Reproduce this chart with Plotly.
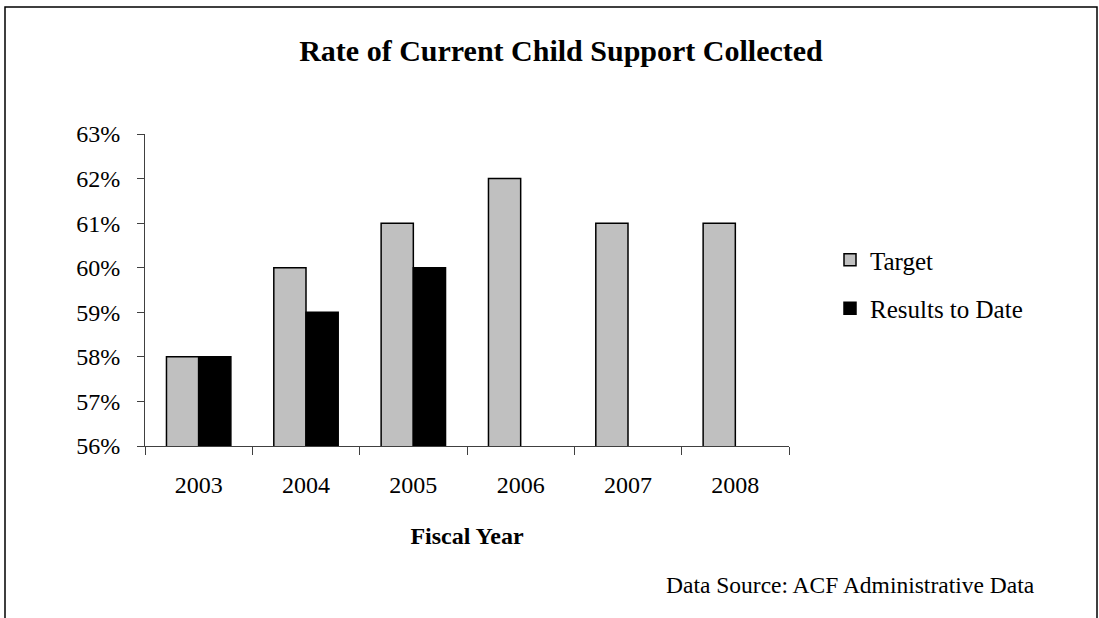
import plotly.graph_objects as go

# Fiscal years and collection rates (%)
years = ["2003", "2004", "2005", "2006", "2007", "2008"]
target = [58, 60, 61, 62, 61, 61]
results = [58, 59, 60, None, None, None]
y_ticks = [56, 57, 58, 59, 60, 61, 62, 63]
y_tick_labels = [f"{v}%" for v in y_ticks]

W, H = 1099, 618
FONT = "Times New Roman, Liberation Serif, serif"

fig = go.Figure()
fig.add_trace(go.Bar(
    x=years, y=target, name="Target", legendgroup="t",
    marker=dict(color="#C0C0C0", line=dict(color="black", width=1.5)),
))
fig.add_trace(go.Bar(
    x=years, y=results, name="Results to Date", legendgroup="r",
    marker=dict(color="black", line=dict(color="black", width=1.5)),
))

fig.update_layout(
    width=W, height=H,
    margin=dict(l=0, r=0, t=0, b=0),
    paper_bgcolor="white", plot_bgcolor="white",
    font=dict(family=FONT, size=24, color="black"),
    barmode="group", bargap=0.4, bargroupgap=0,
    showlegend=True,
    legend=dict(
        x=830 / W, y=1 - 237 / H, xanchor="left", yanchor="top",
        font=dict(family=FONT, size=25, color="black"),
        traceorder="grouped", tracegroupgap=13,
        bgcolor="rgba(0,0,0,0)", itemwidth=30,
    ),
    title=dict(
        text="<b>Rate of Current Child Support Collected</b>",
        x=561 / W, xanchor="center", y=1 - 50 / H, yanchor="middle",
        font=dict(family=FONT, size=30, color="black"),
    ),
    xaxis=dict(
        domain=[145 / W, 789 / W], automargin=False,
        showline=True, linecolor="#404040", linewidth=1,
        ticks="outside", ticklen=8, tickcolor="#404040",
        tickson="boundaries", ticklabelstandoff=17,
        tickfont=dict(family=FONT, size=24),
        title=dict(text="<b>Fiscal Year</b>", font=dict(family=FONT, size=24), standoff=30),
        showgrid=False, zeroline=False,
    ),
    yaxis=dict(
        domain=[1 - 446 / H, 1 - 134 / H], automargin=False,
        range=[56, 63], tickmode="array", tickvals=y_ticks, ticktext=y_tick_labels,
        showline=True, linecolor="#404040", linewidth=1,
        ticks="outside", ticklen=7, tickcolor="#404040",
        ticklabelstandoff=12,
        tickfont=dict(family=FONT, size=24),
        showgrid=False, zeroline=False,
    ),
    shapes=[dict(
        type="rect", xref="paper", yref="paper",
        x0=5 / W, x1=1097 / W, y0=-0.05, y1=1 - 7 / H,
        line=dict(color="black", width=1.5), fillcolor="rgba(0,0,0,0)",
        layer="below",
    )],
    annotations=[dict(
        text="Data Source: ACF Administrative Data",
        xref="paper", yref="paper", x=1037 / W, y=1 - 585 / H,
        xanchor="right", yanchor="middle", showarrow=False,
        font=dict(family=FONT, size=23.5, color="black"),
    )],
)

fig.write_html("out.html")
